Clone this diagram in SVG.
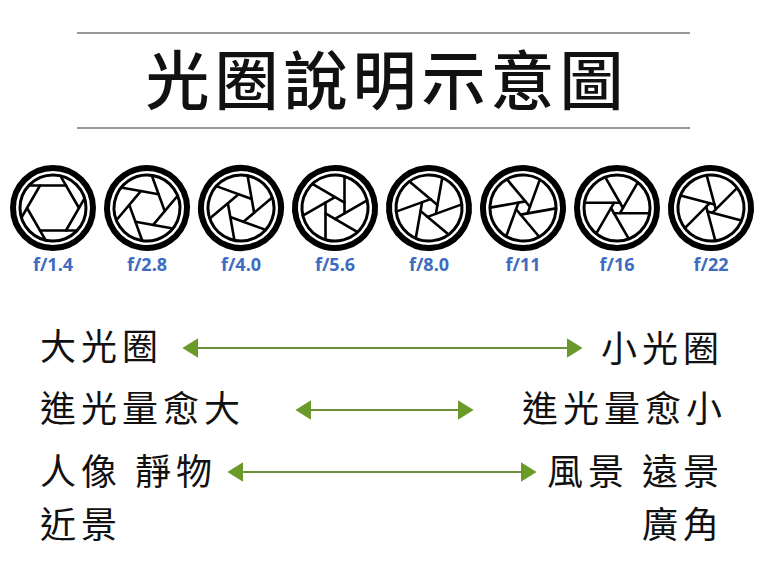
<svg xmlns="http://www.w3.org/2000/svg" width="771" height="585" viewBox="0 0 771 585">
<style>
.o{fill:none;stroke:#000;stroke-width:6}
.i{fill:none;stroke:#000;stroke-width:3}
.b{stroke:#000;stroke-width:2.6;stroke-linecap:round}
.fl{font-family:"Open Sans","Liberation Sans",sans-serif;font-weight:bold;font-size:18px;fill:#3d6cc0;text-anchor:middle}
.t{font-family:"Noto Sans CJK TC","Noto Sans CJK SC",sans-serif;font-size:36px;letter-spacing:5px;fill:#111}
.ln{stroke:#6b8f3a;stroke-width:2}
</style>
<defs>
<marker id="ah" viewBox="0 0 10 10" refX="9" refY="5" markerWidth="16" markerHeight="20" markerUnits="userSpaceOnUse" orient="auto-start-reverse" preserveAspectRatio="none"><path d="M0,0 L10,5 L0,10Z" fill="#6a9a2a"/></marker>
</defs>
<rect width="771" height="585" fill="#fff"/>
<g id="title">
<line x1="77" y1="33" x2="690" y2="33" stroke="#777" stroke-width="1.5"/>
<line x1="77" y1="128" x2="690" y2="128" stroke="#777" stroke-width="1.5"/>
<text x="387" y="104" text-anchor="middle" font-family="Noto Sans CJK TC,Noto Sans CJK SC,sans-serif" font-weight="500" font-size="64" letter-spacing="5" fill="#111">光圈說明示意圖</text>
</g>
<g id="ap1" transform="translate(53,208)"><circle r="40" class="o"/><circle r="33" class="i"/>
<g class="b"><line x1="-13" y1="22.5" x2="24.1" y2="22.5"/><line x1="-13" y1="22.5" x2="24.1" y2="22.5" transform="rotate(60)"/><line x1="-13" y1="22.5" x2="24.1" y2="22.5" transform="rotate(120)"/><line x1="-13" y1="22.5" x2="24.1" y2="22.5" transform="rotate(180)"/><line x1="-13" y1="22.5" x2="24.1" y2="22.5" transform="rotate(240)"/><line x1="-13" y1="22.5" x2="24.1" y2="22.5" transform="rotate(300)"/></g></g>
<g id="ap2" transform="translate(147,208) rotate(10)"><circle r="40" class="o"/><circle r="33" class="i"/>
<g class="b"><line x1="-9" y1="15.6" x2="29.1" y2="15.6"/><line x1="-9" y1="15.6" x2="29.1" y2="15.6" transform="rotate(60)"/><line x1="-9" y1="15.6" x2="29.1" y2="15.6" transform="rotate(120)"/><line x1="-9" y1="15.6" x2="29.1" y2="15.6" transform="rotate(180)"/><line x1="-9" y1="15.6" x2="29.1" y2="15.6" transform="rotate(240)"/><line x1="-9" y1="15.6" x2="29.1" y2="15.6" transform="rotate(300)"/></g></g>
<g id="ap3" transform="translate(241,208) rotate(20)"><circle r="40" class="o"/><circle r="33" class="i"/>
<g class="b"><line x1="-7" y1="12.1" x2="30.7" y2="12.1"/><line x1="-7" y1="12.1" x2="30.7" y2="12.1" transform="rotate(60)"/><line x1="-7" y1="12.1" x2="30.7" y2="12.1" transform="rotate(120)"/><line x1="-7" y1="12.1" x2="30.7" y2="12.1" transform="rotate(180)"/><line x1="-7" y1="12.1" x2="30.7" y2="12.1" transform="rotate(240)"/><line x1="-7" y1="12.1" x2="30.7" y2="12.1" transform="rotate(300)"/></g></g>
<g id="ap4" transform="translate(335,208) rotate(30)"><circle r="40" class="o"/><circle r="33" class="i"/>
<g class="b"><line x1="-5.5" y1="9.5" x2="31.6" y2="9.5"/><line x1="-5.5" y1="9.5" x2="31.6" y2="9.5" transform="rotate(60)"/><line x1="-5.5" y1="9.5" x2="31.6" y2="9.5" transform="rotate(120)"/><line x1="-5.5" y1="9.5" x2="31.6" y2="9.5" transform="rotate(180)"/><line x1="-5.5" y1="9.5" x2="31.6" y2="9.5" transform="rotate(240)"/><line x1="-5.5" y1="9.5" x2="31.6" y2="9.5" transform="rotate(300)"/></g></g>
<g id="ap5" transform="translate(429,208) rotate(40)"><circle r="40" class="o"/><circle r="33" class="i"/>
<g class="b"><line x1="-4.5" y1="7.8" x2="32.1" y2="7.8"/><line x1="-4.5" y1="7.8" x2="32.1" y2="7.8" transform="rotate(60)"/><line x1="-4.5" y1="7.8" x2="32.1" y2="7.8" transform="rotate(120)"/><line x1="-4.5" y1="7.8" x2="32.1" y2="7.8" transform="rotate(180)"/><line x1="-4.5" y1="7.8" x2="32.1" y2="7.8" transform="rotate(240)"/><line x1="-4.5" y1="7.8" x2="32.1" y2="7.8" transform="rotate(300)"/></g></g>
<g id="ap6" transform="translate(523,208) rotate(50)"><circle r="40" class="o"/><circle r="33" class="i"/>
<g class="b"><line x1="-3.5" y1="6.1" x2="32.4" y2="6.1"/><line x1="-3.5" y1="6.1" x2="32.4" y2="6.1" transform="rotate(60)"/><line x1="-3.5" y1="6.1" x2="32.4" y2="6.1" transform="rotate(120)"/><line x1="-3.5" y1="6.1" x2="32.4" y2="6.1" transform="rotate(180)"/><line x1="-3.5" y1="6.1" x2="32.4" y2="6.1" transform="rotate(240)"/><line x1="-3.5" y1="6.1" x2="32.4" y2="6.1" transform="rotate(300)"/></g></g>
<g id="ap7" transform="translate(617,208) rotate(0)"><circle r="40" class="o"/><circle r="33" class="i"/>
<g class="b"><line x1="-3" y1="5.2" x2="32.6" y2="5.2"/><line x1="-3" y1="5.2" x2="32.6" y2="5.2" transform="rotate(60)"/><line x1="-3" y1="5.2" x2="32.6" y2="5.2" transform="rotate(120)"/><line x1="-3" y1="5.2" x2="32.6" y2="5.2" transform="rotate(180)"/><line x1="-3" y1="5.2" x2="32.6" y2="5.2" transform="rotate(240)"/><line x1="-3" y1="5.2" x2="32.6" y2="5.2" transform="rotate(300)"/></g></g>
<g id="ap8" transform="translate(711,208) rotate(15)"><circle r="40" class="o"/><circle r="33" class="i"/>
<g class="b"><line x1="-2.5" y1="4.3" x2="32.7" y2="4.3"/><line x1="-2.5" y1="4.3" x2="32.7" y2="4.3" transform="rotate(60)"/><line x1="-2.5" y1="4.3" x2="32.7" y2="4.3" transform="rotate(120)"/><line x1="-2.5" y1="4.3" x2="32.7" y2="4.3" transform="rotate(180)"/><line x1="-2.5" y1="4.3" x2="32.7" y2="4.3" transform="rotate(240)"/><line x1="-2.5" y1="4.3" x2="32.7" y2="4.3" transform="rotate(300)"/></g></g>
<g id="flabels">
<text class="fl" x="53" y="271">f/1.4</text><text class="fl" x="147" y="271">f/2.8</text><text class="fl" x="241" y="271">f/4.0</text><text class="fl" x="335" y="271">f/5.6</text><text class="fl" x="429" y="271">f/8.0</text><text class="fl" x="523" y="271">f/11</text><text class="fl" x="617" y="271">f/16</text><text class="fl" x="711" y="271">f/22</text>
</g>
<g id="left">
<text class="t" x="40" y="360">大光圈</text>
<text class="t" x="40" y="422">進光量愈大</text>
<text class="t" x="40" y="485">人像 靜物</text>
<text class="t" x="40" y="538">近景</text>
</g>
<g id="right" text-anchor="end">
<text class="t" x="724" y="362">小光圈</text>
<text class="t" x="727" y="422">進光量愈小</text>
<text class="t" x="724" y="485">風景 遠景</text>
<text class="t" x="724" y="538">廣角</text>
</g>
<g id="connectors">
<line class="ln" x1="184" y1="348" x2="581" y2="348" marker-start="url(#ah)" marker-end="url(#ah)"/>
<line class="ln" x1="297" y1="410" x2="472" y2="410" marker-start="url(#ah)" marker-end="url(#ah)"/>
<line class="ln" x1="229" y1="472" x2="535" y2="472" marker-start="url(#ah)" marker-end="url(#ah)"/>
</g>
</svg>
